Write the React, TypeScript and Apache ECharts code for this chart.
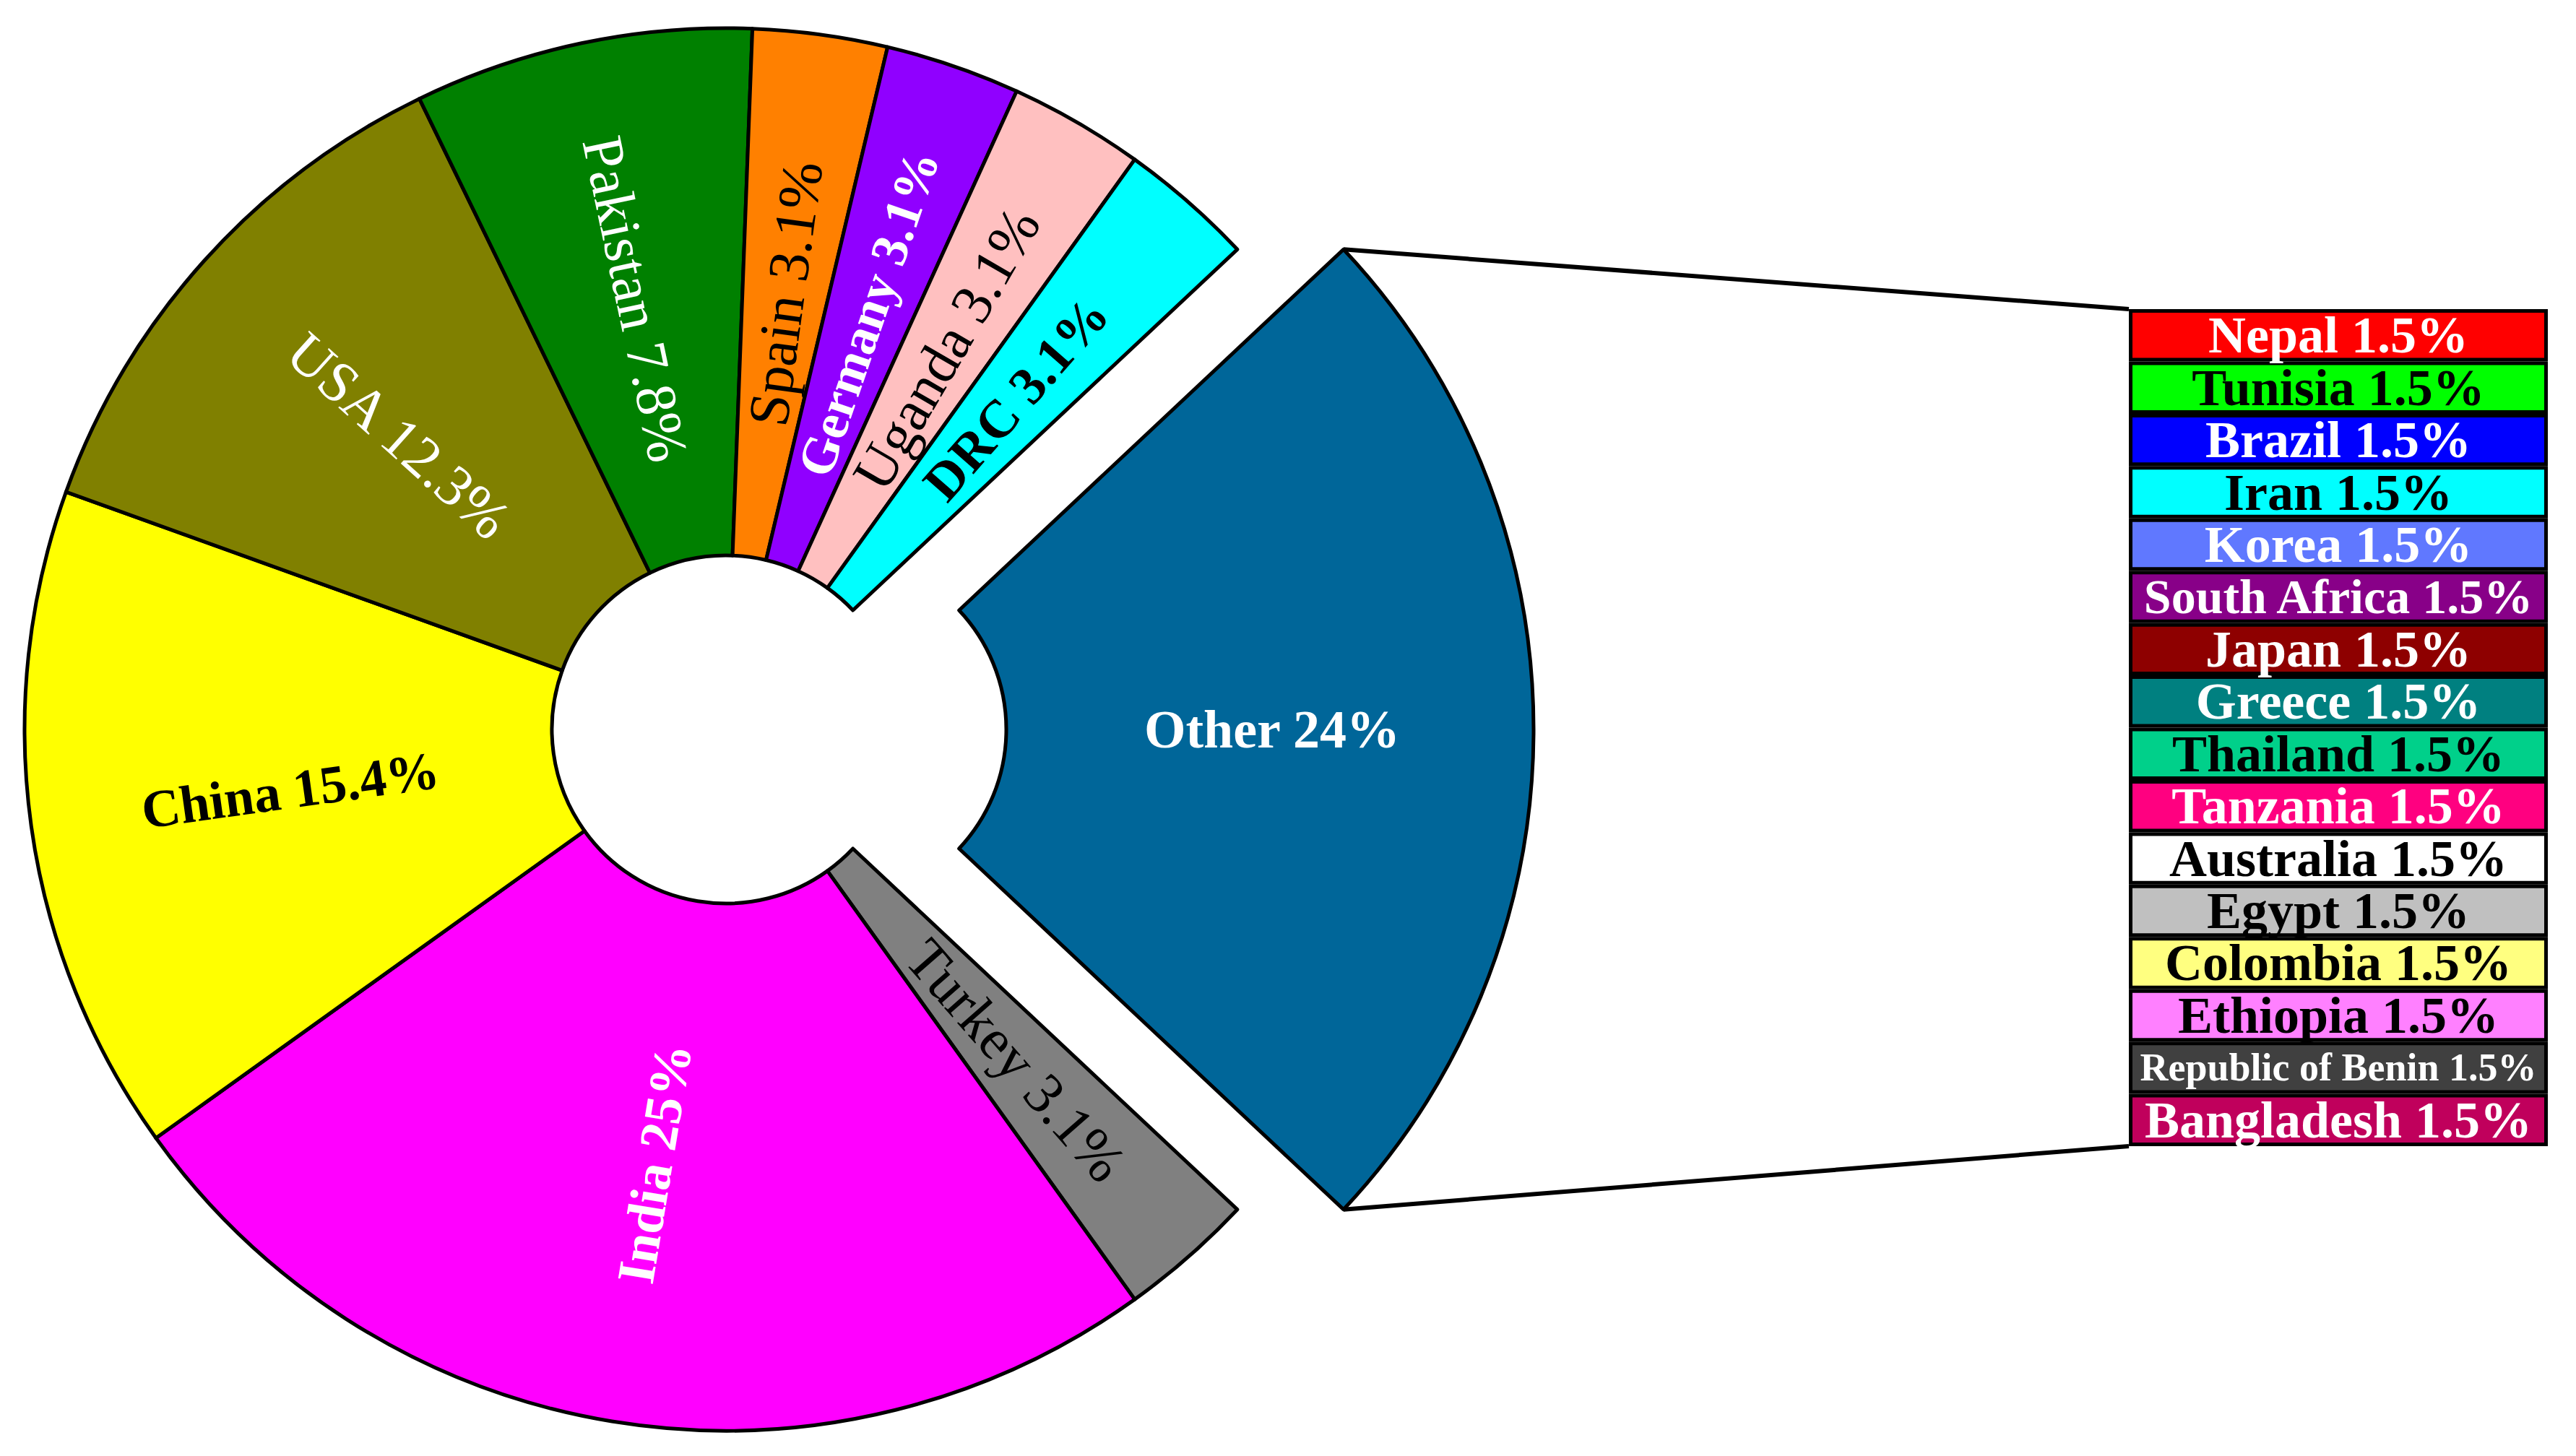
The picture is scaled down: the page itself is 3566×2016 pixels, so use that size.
import React, { useEffect, useRef } from 'react';
import * as echarts from 'echarts';

// ---------- data ----------
const pieNames = ['Other', 'Turkey', 'India', 'China', 'USA', 'Pakistan', 'Spain', 'Germany', 'Uganda', 'DRC'];
const pieValues = [24, 3.1, 25, 15.4, 12.3, 7.8, 3.1, 3.1, 3.1, 3.1];
const pieColors = ['#006699', '#808080', '#FF00FF', '#FFFF00', '#808000', '#008000', '#FF8000', '#9000FF', '#FFC0C0', '#00FFFF'];
const pieLabelColors = ['#FFFFFF', '#000000', '#FFFFFF', '#000000', '#FFFFFF', '#FFFFFF', '#000000', '#FFFFFF', '#000000', '#000000'];
const pieLabelBold = [true, false, true, true, false, false, false, true, false, true];
const pieLabelSizes = [74, 80, 74, 74, 80, 80, 80, 72, 80, 74];

const barNames = ['Nepal', 'Tunisia', 'Brazil', 'Iran', 'Korea', 'South Africa', 'Japan', 'Greece', 'Thailand', 'Tanzania', 'Australia', 'Egypt', 'Colombia', 'Ethiopia', 'Republic of Benin', 'Bangladesh'];
const barValues = [1.5, 1.5, 1.5, 1.5, 1.5, 1.5, 1.5, 1.5, 1.5, 1.5, 1.5, 1.5, 1.5, 1.5, 1.5, 1.5];
const barColors = ['#FF0000', '#00FF00', '#0000FF', '#00FFFF', '#6078FF', '#880088', '#8E0000', '#008080', '#00D08A', '#FF0080', '#FFFFFF', '#C0C0C0', '#FFFF80', '#FF80FF', '#404040', '#C0005C'];
const barLabelColors = ['#FFFFFF', '#000000', '#FFFFFF', '#000000', '#FFFFFF', '#FFFFFF', '#FFFFFF', '#FFFFFF', '#000000', '#FFFFFF', '#000000', '#000000', '#000000', '#000000', '#FFFFFF', '#FFFFFF'];
const barLabelSizes = [72, 72, 72, 72, 72, 68, 72, 72, 72, 72, 72, 72, 72, 72, 54, 72];

// ---------- layout ----------
const W = 3566;
const H = 2016;
const PIE_CX = 1005;
const PIE_CY = 1010;
const R_IN = 241;
const R_OUT = 971;
const EXPLODE = 147;
const BAR_LEFT = 2947;
const BAR_TOP = 428;
const BAR_W = 580;
const BAR_H = 1159;
const FONT = "'Liberation Serif', 'Times New Roman', serif";

export default function App() {
  const ref = useRef<HTMLDivElement>(null);

  useEffect(() => {
    if (!ref.current) return;
    const chart = echarts.init(ref.current, undefined, { renderer: 'svg' });

    const total = pieValues.reduce((a, b) => a + b, 0);
    const half = (pieValues[0] / total) * Math.PI;
    const startDeg = (half * 180) / Math.PI;
    const ocx = PIE_CX + EXPLODE;
    const topCorner = [ocx + R_OUT * Math.cos(half), PIE_CY - R_OUT * Math.sin(half)];
    const botCorner = [ocx + R_OUT * Math.cos(half), PIE_CY + R_OUT * Math.sin(half)];

    const pieLabel = (i: number) => ({
      show: true,
      color: pieLabelColors[i],
      fontWeight: pieLabelBold[i] ? 'bold' : 'normal',
      fontSize: pieLabelSizes[i],
      fontFamily: FONT,
      overflow: 'none',
    });

    const mainData = pieNames.map((n, i) =>
      i === 0
        ? { name: n, value: pieValues[i], itemStyle: { color: 'rgba(0,0,0,0)', borderWidth: 0 }, label: { show: false } }
        : { name: n, value: pieValues[i], itemStyle: { color: pieColors[i] }, label: pieLabel(i) }
    );
    const otherData = pieNames.map((n, i) =>
      i === 0
        ? { name: n, value: pieValues[i], itemStyle: { color: pieColors[i] }, label: pieLabel(i) }
        : { name: n, value: pieValues[i], itemStyle: { color: 'rgba(0,0,0,0)', borderWidth: 0 }, label: { show: false } }
    );

    const pieCommon = {
      type: 'pie',
      radius: [R_IN, R_OUT],
      startAngle: startDeg,
      clockwise: true,
      avoidLabelOverlap: false,
      minShowLabelAngle: 0,
      labelLayout: { hideOverlap: false },
      silent: true,
      emphasis: { disabled: true },
      itemStyle: { borderColor: '#000000', borderWidth: 5 },
      label: { position: 'inside', rotate: 'radial', formatter: '{b} {c}%' },
      labelLine: { show: false },
    };

    const barSeries = barNames.map((n, i) => ({
      type: 'bar',
      name: n,
      stack: 'other',
      barWidth: '100%',
      silent: true,
      data: [barValues[i]],
      itemStyle: { color: barColors[i], borderColor: '#000000', borderWidth: 5 },
      label: {
        show: true,
        position: 'inside',
        formatter: '{a} {c}%',
        color: barLabelColors[i],
        fontSize: barLabelSizes[i],
        fontWeight: 'bold',
        fontFamily: FONT,
      },
    }));

    chart.setOption({
      animation: false,
      backgroundColor: '#FFFFFF',
      grid: { left: BAR_LEFT, top: BAR_TOP, width: BAR_W, height: BAR_H, containLabel: false },
      xAxis: { type: 'category', data: ['Other'], show: false },
      yAxis: {
        type: 'value',
        min: 0,
        max: barValues.reduce((a, b) => a + b, 0),
        inverse: true,
        show: false,
      },
      series: [
        { ...pieCommon, center: [PIE_CX, PIE_CY], data: mainData },
        { ...pieCommon, center: [ocx, PIE_CY], data: otherData },
        ...barSeries,
      ],
      graphic: [
        {
          type: 'line',
          shape: { x1: topCorner[0], y1: topCorner[1], x2: BAR_LEFT, y2: BAR_TOP },
          style: { stroke: '#000000', lineWidth: 6 },
          z: 10,
        },
        {
          type: 'line',
          shape: { x1: botCorner[0], y1: botCorner[1], x2: BAR_LEFT, y2: BAR_TOP + BAR_H },
          style: { stroke: '#000000', lineWidth: 6 },
          z: 10,
        },
      ],
    });

    return () => chart.dispose();
  }, []);

  return (
    <div
      ref={ref}
      style={{ position: 'absolute', left: 0, top: 0, width: W, height: H, background: '#FFFFFF' }}
    />
  );
}
